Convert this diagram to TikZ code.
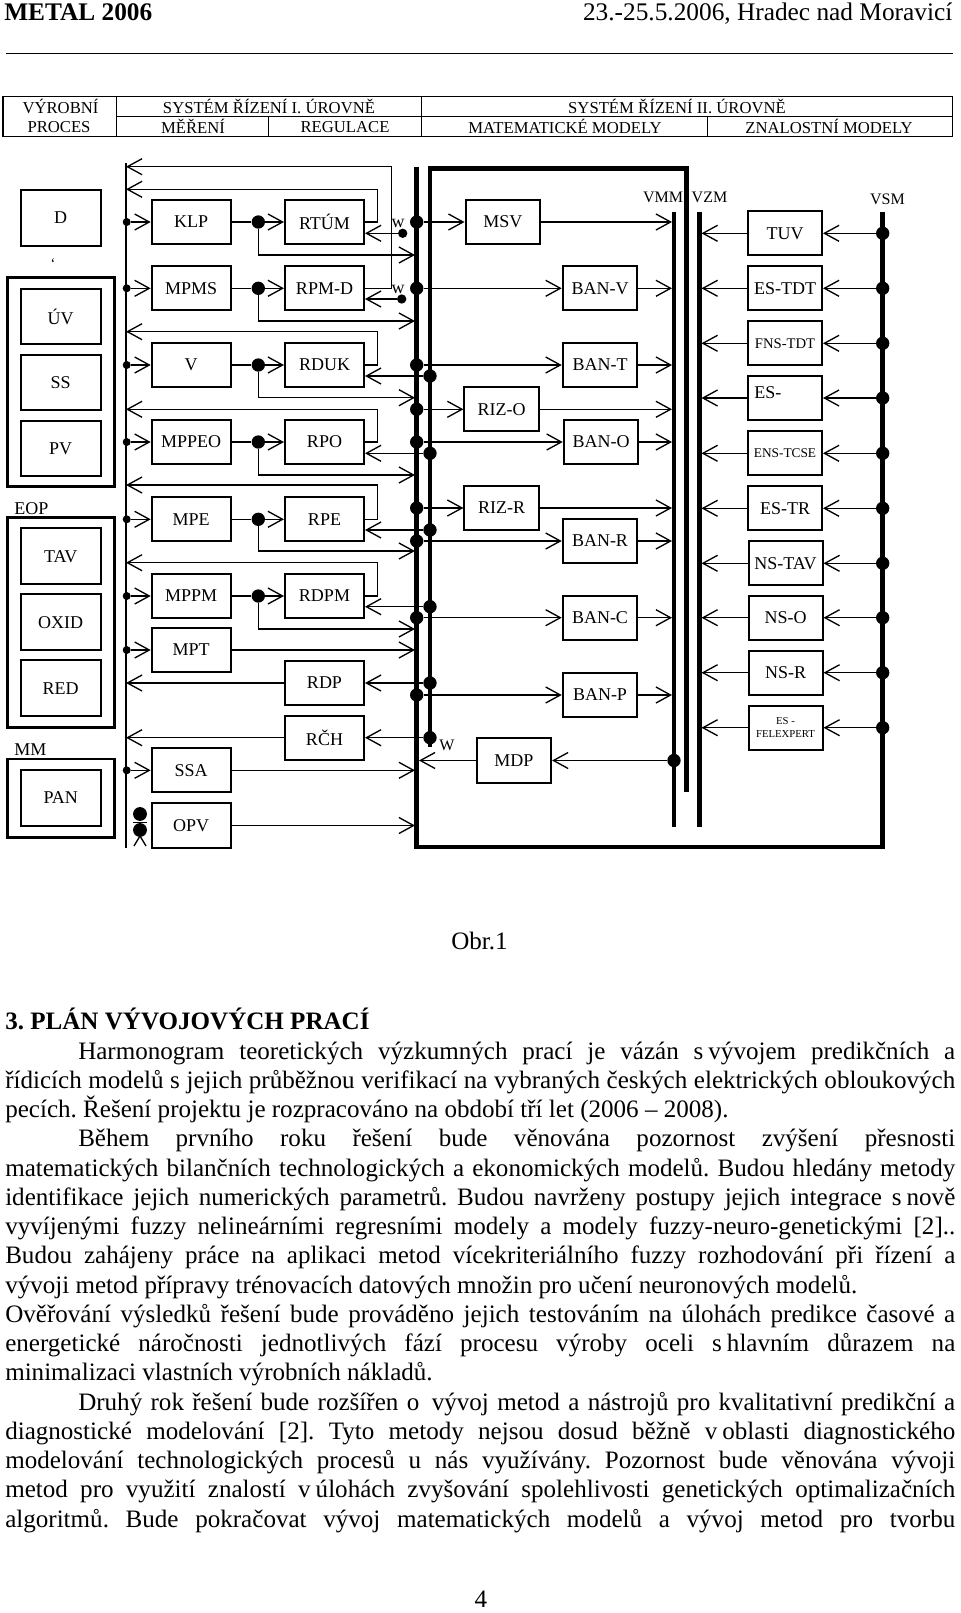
\documentclass[tikz,border=0pt]{standalone}
\usepackage{fontspec}
\setmainfont{Liberation Serif}
\usetikzlibrary{arrows.meta}
\newcommand\fz[2]{\fontsize{#1pt}{#2pt}\selectfont}
\frenchspacing
\begin{document}
\frenchspacing
\begin{tikzpicture}[x=0.75pt,y=-0.75pt,
  ln/.style={line width=1pt},
  arr/.style={line width=1pt,-{Straight Barb[length=11pt,width=12pt]}},
  box/.style={draw,line width=1.5pt,inner sep=0pt,minimum width=59.25pt,minimum height=33.2pt,font=\fz{13.5}{15}},
  mbox/.style={box,minimum width=55.9pt},
  rbox/.style={box,minimum width=55.5pt},
  pbox/.style={box,minimum width=60pt,minimum height=41.8pt},
  frm/.style={draw,line width=2.2pt},
  bus/.style={line width=3.4pt},
  bdot/.style={circle,fill,inner sep=0pt,minimum size=10pt},
  sdot/.style={circle,fill,inner sep=0pt,minimum size=6pt},
  lbl/.style={inner sep=0pt,font=\fz{12.5}{14}},
  blbl/.style={inner sep=0pt,font=\fz{13.5}{15}},
  txt/.style={inner sep=0pt,anchor=base west,font=\fz{18.8}{21.9}}
]
\fill[white] (0,0) rectangle (960,1613);
\useasboundingbox (0,0) rectangle (960,1613);

% ---------- page header ----------
\node[inner sep=0pt,anchor=base west,font=\fz{19}{22}\bfseries] (hl) at (4,20.7) {METAL 2006};
\node[inner sep=0pt,anchor=base east,font=\fz{19}{22}] (hr) at (952.6,20.7) {23.-25.5.2006, Hradec nad Moravicí};
\draw[line width=1.1pt] (6,53.3) -- (952.6,53.3);

% ---------- top table ----------
\draw[line width=1pt] (3,96.7) rectangle (952.6,136.7);
\draw[line width=1pt] (116.7,116.7) -- (952.6,116.7);
\draw[line width=1pt] (116.7,96.7) -- (116.7,136.7);
\draw[line width=1pt] (421.5,96.7) -- (421.5,136.7);
\draw[line width=1pt] (268.3,116.7) -- (268.3,136.7);
\draw[line width=1pt] (707.7,116.7) -- (707.7,136.7);
\node[lbl] (t1) at (60.5,106.7) {VÝROBNÍ};
\node[lbl] (t2) at (59,126.7) {PROCES};
\node[lbl] (t3) at (269,106.7) {SYSTÉM ŘÍZENÍ I. ÚROVNĚ};
\node[lbl] (t4) at (677,106.7) {SYSTÉM ŘÍZENÍ II. ÚROVNĚ};
\node[lbl] (t5) at (193,126.7) {MĚŘENÍ};
\node[lbl] (t6) at (345,126.7) {REGULACE};
\node[lbl] (t7) at (565,126.7) {MATEMATICKÉ MODELY};
\node[lbl] (t8) at (829,126.7) {ZNALOSTNÍ MODELY};

% ---------- buses ----------
\coordinate (lb) at (126,163);
\coordinate (b1) at (415,166.7);
\coordinate (b1R) at (419,166.7);
\coordinate (vmm) at (672,211.7);
\coordinate (vzm) at (701.5,211.7);
\coordinate (vsm) at (882.7,211.7);
\draw[line width=1.1pt] (lb) -- (126,848);
\draw[bus] (416.7,166.7) -- (416.7,847) -- (882.7,847) -- (882.7,211.7);
\draw[bus] (430,746.7) -- (430,168.3) -- (686.7,168.3) -- (686.7,791.7);
\draw[bus] (674,211.7) -- (674,826.7);
\draw[bus] (699.3,211.7) -- (699.3,826.7);
\node[blbl,font=\fz{12}{14}] (lvmm) at (663,197) {VMM};
\node[blbl,font=\fz{12}{14}] (lvzm) at (709.5,197) {VZM};
\node[blbl,font=\fz{12}{14}] (lvsm) at (887.5,199) {VSM};

% ---------- process column ----------
\node[pbox] (D) at (60.7,217.8) {D};
\node[inner sep=0pt,font=\fz{11}{12}] (tick) at (53,264) {`};
\draw[frm] (7.3,277.3) rectangle (114.3,486.7);
\node[pbox] (UV) at (60.7,316.5) {ÚV};
\node[pbox] (SS) at (60.7,382.5) {SS};
\node[pbox] (PV) at (60.7,448.5) {PV};
\node[blbl,anchor=west] (EOP) at (14,509) {EOP};
\draw[frm] (7.3,517.3) rectangle (114.3,727.7);
\node[pbox] (TAV) at (60.7,556.2) {TAV};
\node[pbox] (OXID) at (60.7,622.2) {OXID};
\node[pbox] (RED) at (60.7,688.2) {RED};
\node[blbl,anchor=west] (MM) at (14,750) {MM};
\draw[frm] (7.3,759) rectangle (114.3,837.7);
\node[pbox] (PAN) at (60.7,797.8) {PAN};

% ---------- measurement column ----------
\node[box] (KLP) at (191.2,222) {KLP};
\node[box] (MPMS) at (191.2,288.3) {MPMS};
\node[box] (V) at (191.2,365) {V};
\node[box] (MPPEO) at (191.2,442) {MPPEO};
\node[box] (MPE) at (191.2,519.3) {MPE};
\node[box] (MPPM) at (191.2,596) {MPPM};
\node[box] (MPT) at (191.2,650) {MPT};
\node[box] (SSA) at (191.2,770.3) {SSA};
\node[box] (OPV) at (191.2,825.5) {OPV};

% ---------- regulator column ----------
\node[box] (RTUM) at (324.5,222) {RTÚM};
\node[box] (RPMD) at (324.5,288.3) {RPM-D};
\node[box] (RDUK) at (324.5,365) {RDUK};
\node[box] (RPO) at (324.5,442) {RPO};
\node[box] (RPE) at (324.5,519.3) {RPE};
\node[box] (RDPM) at (324.5,596) {RDPM};
\node[box] (RDP) at (324.5,683) {RDP};
\node[box] (RCH) at (324.5,737.7) {RČH};

% small dots on the left bus and inputs to measurements
\foreach \n/\y in {KLP/222,MPMS/288.3,V/365,MPPEO/442,MPE/519.3,MPPM/596,MPT/650,SSA/770.3}{
  \node[sdot] (l\n) at (126.7,\y) {};
  \draw[arr] (l\n) -- (\n.west);
}
% measurement -> regulator, feedforward to bus 1
\foreach \m/\r/\d/\f in {KLP/RTUM/dA/255,MPMS/RPMD/dB/321,V/RDUK/dC/397.7,MPPEO/RPO/dD/475,MPE/RPE/dE/551,MPPM/RDPM/dF/629}{
  \node[bdot] (\d) at (258.3,0 |- \m) {};
  \draw[ln] (\m.east) -- (\d);
  \draw[arr] (\d) -- (\r.west);
  \coordinate (ff\d) at (415,\f);
  \draw[arr] (\d) |- (ff\d);
}
% regulator feedback to the process bus
\coordinate (f0) at (126,166.7);
\draw[arr] (RPMD.east) -| (391.7,166.7) -- (f0);
\foreach \r/\f in {RTUM/189.3,RDUK/331.7,RPO/409.3,RPE/485,RDPM/562.7}{
  \coordinate (fb\r) at (126,\f);
  \draw[arr] (\r.east) -| (377.5,\f) -- (fb\r);
}
\draw[arr] (RDP.west) -- (RDP.west -| lb);
\draw[arr] (RCH.west) -- (RCH.west -| lb);
\draw[arr] (MPT.east) -- (MPT.east -| b1);
\draw[arr] (SSA.east) -- (SSA.east -| b1);
\draw[arr] (OPV.east) -- (OPV.east -| b1);

% w set-points
\node[blbl] (wtA) at (398,223.5) {w};
\node[sdot,minimum size=7pt] (wA) at (402.7,233.3) {};
\draw[arr] (wA) -- (RTUM.east |- wA);
\node[blbl] (wtB) at (398,289.5) {w};
\node[sdot,minimum size=7pt] (wB) at (401.7,299) {};
\draw[arr] (wB) -- (RPMD.east |- wB);

% bus 2 dots -> regulators
\foreach \r/\y in {RDUK/376,RPO/453.3,RPE/530,RDPM/606.7,RDP/683,RCH/737.7}{
  \node[bdot] (v\r) at (430,\y) {};
  \draw[arr] (v\r) -- (\r.east |- v\r);
}
\node[blbl,font=\fz{12}{14}] (Wl) at (447,745) {W};

% person symbol
\fill (140,814) circle (5.2pt);
\fill (140,830) circle (5.2pt);
\draw[line width=1pt] (133,822.3) -- (147,822.3);
\draw[line width=1pt] (140,836) -- (134,846) (140,836) -- (146,846);

% ---------- models ----------
\node[mbox] (MSV) at (502.8,222) {MSV};
\node[mbox] (BANV) at (600,288.3) {BAN-V};
\node[mbox] (BANT) at (600,365) {BAN-T};
\node[mbox] (RIZO) at (501.7,409.3) {RIZ-O};
\node[mbox] (BANO) at (601,442) {BAN-O};
\node[mbox] (RIZR) at (501.7,508) {RIZ-R};
\node[mbox] (BANR) at (600,541) {BAN-R};
\node[mbox] (BANC) at (600,617.7) {BAN-C};
\node[mbox] (BANP) at (600,695) {BAN-P};
\node[mbox] (MDP) at (513.8,760.5) {MDP};
\foreach \m in {MSV,BANV,BANT,RIZO,BANO,RIZR,BANR,BANC,BANP}{
  \node[bdot] (u\m) at (416.7,0 |- \m) {};
  \draw[arr] (u\m) -- (\m.west);
  \draw[arr] (\m.east) -- (\m.east -| vmm);
}
\node[bdot] (mMDP) at (674,760.5) {};
\draw[arr] (mMDP) -- (MDP.east);
\draw[arr] (MDP.west) -- (MDP.west -| b1R);

% ---------- knowledge models ----------
\node[rbox] (TUV) at (785,233.3) {TUV};
\node[rbox] (ESTDT) at (785,288.3) {ES-TDT};
\node[rbox,font=\fz{11}{13}] (FNSTDT) at (785,343.3) {FNS-TDT};
\node[rbox] (ES) at (785,398) {};
\node[blbl,anchor=west] (EStx) at (754,393) {ES-};
\node[rbox,font=\fz{10}{12}] (ENSTCSE) at (785,453.3) {ENS-TCSE};
\node[rbox] (ESTR) at (785,508.3) {ES-TR};
\node[rbox] (NSTAV) at (785.5,563.3) {NS-TAV};
\node[rbox] (NSO) at (785.5,617.7) {NS-O};
\node[rbox] (NSR) at (785.5,672.7) {NS-R};
\node[rbox,font=\fz{8}{9.5},align=center] (ESFEL) at (785.5,727.7) {ES -\\FELEXPERT};
\foreach \m in {TUV,ESTDT,FNSTDT,ES,ENSTCSE,ESTR,NSTAV,NSO,NSR,ESFEL}{
  \node[bdot] (s\m) at (882.7,0 |- \m) {};
  \draw[arr] (s\m) -- (\m.east);
  \draw[arr] (\m.west) -- (\m.west -| vzm);
}

% ---------- caption and text ----------
\node[inner sep=0pt,anchor=base,font=\fz{18.8}{21.9}] (obr) at (479.5,949) {Obr.1};
\node[txt,font=\fz{18.8}{21.9}\bfseries] (h3) at (5,1029.7) {3. PLÁN VÝVOJOVÝCH PRACÍ};
\node[txt] (p1) at (78,1059) {\makebox[657.75pt][s]{Harmonogram teoretických výzkumných prací je vázán s\hspace{0.2em}vývojem predikčních a}};
\node[txt] (p2) at (5,1088.3) {\makebox[712.5pt][s]{řídicích modelů s jejich průběžnou verifikací na vybraných českých elektrických obloukových}};
\node[txt] (p3) at (5,1117.5) {pecích. Řešení projektu je rozpracováno na období tří let (2006 – 2008).};
\node[txt] (p4) at (78,1146.8) {\makebox[657.75pt][s]{Během prvního roku řešení bude věnována pozornost zvýšení přesnosti}};
\node[txt] (p5) at (5,1176) {\makebox[712.5pt][s]{matematických bilančních technologických a ekonomických modelů. Budou hledány metody}};
\node[txt] (p6) at (5,1205.3) {\makebox[712.5pt][s]{identifikace jejich numerických parametrů. Budou navrženy postupy jejich integrace s\hspace{0.2em}nově}};
\node[txt] (p7) at (5,1234.6) {\makebox[712.5pt][s]{vyvíjenými fuzzy nelineárními regresními modely a modely fuzzy-neuro-genetickými [2]..}};
\node[txt] (p8) at (5,1263.8) {\makebox[712.5pt][s]{Budou zahájeny práce na aplikaci metod vícekriteriálního fuzzy rozhodování při řízení a}};
\node[txt] (p9) at (5,1293.1) {vývoji metod přípravy trénovacích datových množin pro učení neuronových modelů.};
\node[txt] (p10) at (5,1322.3) {\makebox[712.5pt][s]{Ověřování výsledků řešení bude prováděno jejich testováním na úlohách predikce časové a}};
\node[txt] (p11) at (5,1351.6) {\makebox[712.5pt][s]{energetické náročnosti jednotlivých fází procesu výroby oceli s\hspace{0.2em}hlavním důrazem na}};
\node[txt] (p12) at (5,1380.9) {minimalizaci vlastních výrobních nákladů.};
\node[txt] (p13) at (78,1410.1) {\makebox[657.75pt][s]{Druhý rok řešení bude rozšířen o\hspace{0.5em}vývoj metod a nástrojů pro kvalitativní predikční a}};
\node[txt] (p14) at (5,1439.4) {\makebox[712.5pt][s]{diagnostické modelování [2]. Tyto metody nejsou dosud běžně v\hspace{0.2em}oblasti diagnostického}};
\node[txt] (p15) at (5,1468.6) {\makebox[712.5pt][s]{modelování technologických procesů u nás využívány. Pozornost bude věnována vývoji}};
\node[txt] (p16) at (5,1497.9) {\makebox[712.5pt][s]{metod pro využití znalostí v\hspace{0.2em}úlohách zvyšování spolehlivosti genetických optimalizačních}};
\node[txt] (p17) at (5,1527.2) {\makebox[712.5pt][s]{algoritmů. Bude pokračovat vývoj matematických modelů a vývoj metod pro tvorbu}};
\node[inner sep=0pt,anchor=base,font=\fz{18.8}{21.9}] (pg) at (481,1607) {4};
\end{tikzpicture}
\end{document}
